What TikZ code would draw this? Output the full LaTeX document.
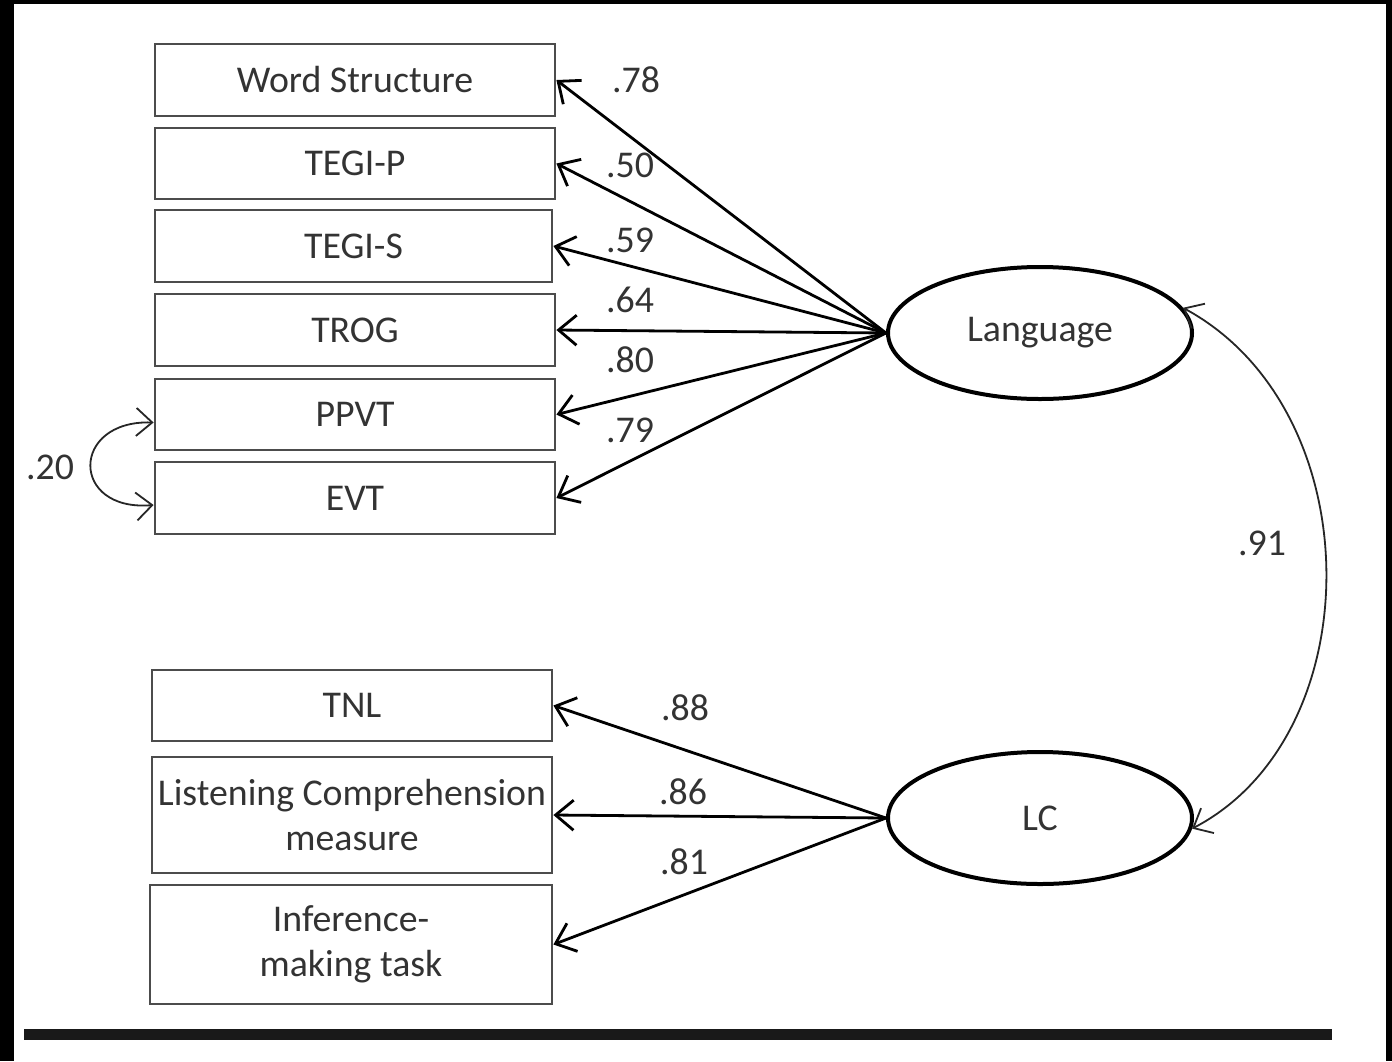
\documentclass[tikz,border=0pt]{standalone}
\usepackage{fontspec}
\setmainfont{Carlito}
\usetikzlibrary{shapes.geometric,arrows.meta}

\begin{document}
\begin{tikzpicture}[x=0.5pt,y=-0.5pt,
  every node/.style={font=\fontsize{18.9}{22.5}\selectfont, text=black!80},
  measure/.style={draw=black!70, line width=1.4pt, rectangle, inner sep=0pt,
                  minimum width=200pt, align=center},
  latent/.style={draw=black, line width=2pt, ellipse, inner sep=0pt,
                 minimum width=152pt, minimum height=66pt, text=black!80},
  loading/.style={draw=black, line width=1.4pt,
                  -{Straight Barb[length=9pt,width=15pt,line width=1.4pt]}},
  covar/.style={draw=black!85, line width=0.9pt,
                {Straight Barb[length=8pt,width=14pt,line width=0.9pt]}-{Straight Barb[length=8pt,width=14pt,line width=0.9pt]}},
  coef/.style={inner sep=0pt, anchor=center}
]
\useasboundingbox (0,0) rectangle (1392,1061);
% page frame
\fill[black] (0,0) rectangle (1392,1061);
\fill[white] (14,4) rectangle (1386,1061);

% observed measures of Language
\node[measure, minimum height=36pt] (ws)   at (355,80)    {Word Structure};
\node[measure, minimum height=35.5pt] (tp) at (355,163.5) {TEGI-P};
\node[measure, minimum height=36pt, minimum width=198.5pt] (ts) at (353.5,246) {TEGI-S};
\node[measure, minimum height=36pt] (trog) at (355,330)   {TROG};
\node[measure, minimum height=35.5pt] (ppvt) at (355,414.5) {PPVT};
\node[measure, minimum height=36pt] (evt)  at (355,498)   {EVT};

% observed measures of LC
\node[measure, minimum height=35.5pt] (tnl) at (352,705.5) {TNL};
\node[measure, minimum height=58pt] (lcm) at (352,815) {Listening Comprehension\\measure};
\node[measure, minimum height=59.5pt, minimum width=201pt] (inf) at (351,944.5) {Inference-\\making task};

% latent factors
\node[latent] (lang) at (1040,333) {Language};
\node[latent] (lc)   at (1040,818) {LC};

% factor loadings
\draw[loading] (lang.west) -- (ws.east);
\draw[loading] (lang.west) -- (tp.east);
\draw[loading] (lang.west) -- (ts.east);
\draw[loading] (lang.west) -- (trog.east);
\draw[loading] (lang.west) -- (ppvt.east);
\draw[loading] (lang.west) -- (evt.east);

\draw[loading] (lc.west) -- (tnl.east);
\draw[loading] (lc.west) -- (lcm.east);
\draw[loading] (lc.west) -- (inf.east);

\node[coef] (c1) at (636,80)  {.78};
\node[coef] (c2) at (630,165) {.50};
\node[coef] (c3) at (630,240) {.59};
\node[coef] (c4) at (630,300) {.64};
\node[coef] (c5) at (630,360) {.80};
\node[coef] (c6) at (630,430) {.79};

\node[coef] (c7) at (685,708) {.88};
\node[coef] (c8) at (683,792) {.86};
\node[coef] (c9) at (684,862) {.81};

% factor correlation
\draw[covar] (lang.10) .. controls (1372,410) and (1372,735) .. (lc.-4);
\node[coef] (r1) at (1262,543) {.91};

% residual covariance
\draw[covar] ([yshift=-4pt]ppvt.west) .. controls (70,420) and (70,512) .. ([yshift=-3.5pt]evt.west);
\node[coef] (r2) at (50,467) {.20};

% rule under the figure
\fill[black!90] (24,1029) rectangle (1332,1040);
\end{tikzpicture}
\end{document}
